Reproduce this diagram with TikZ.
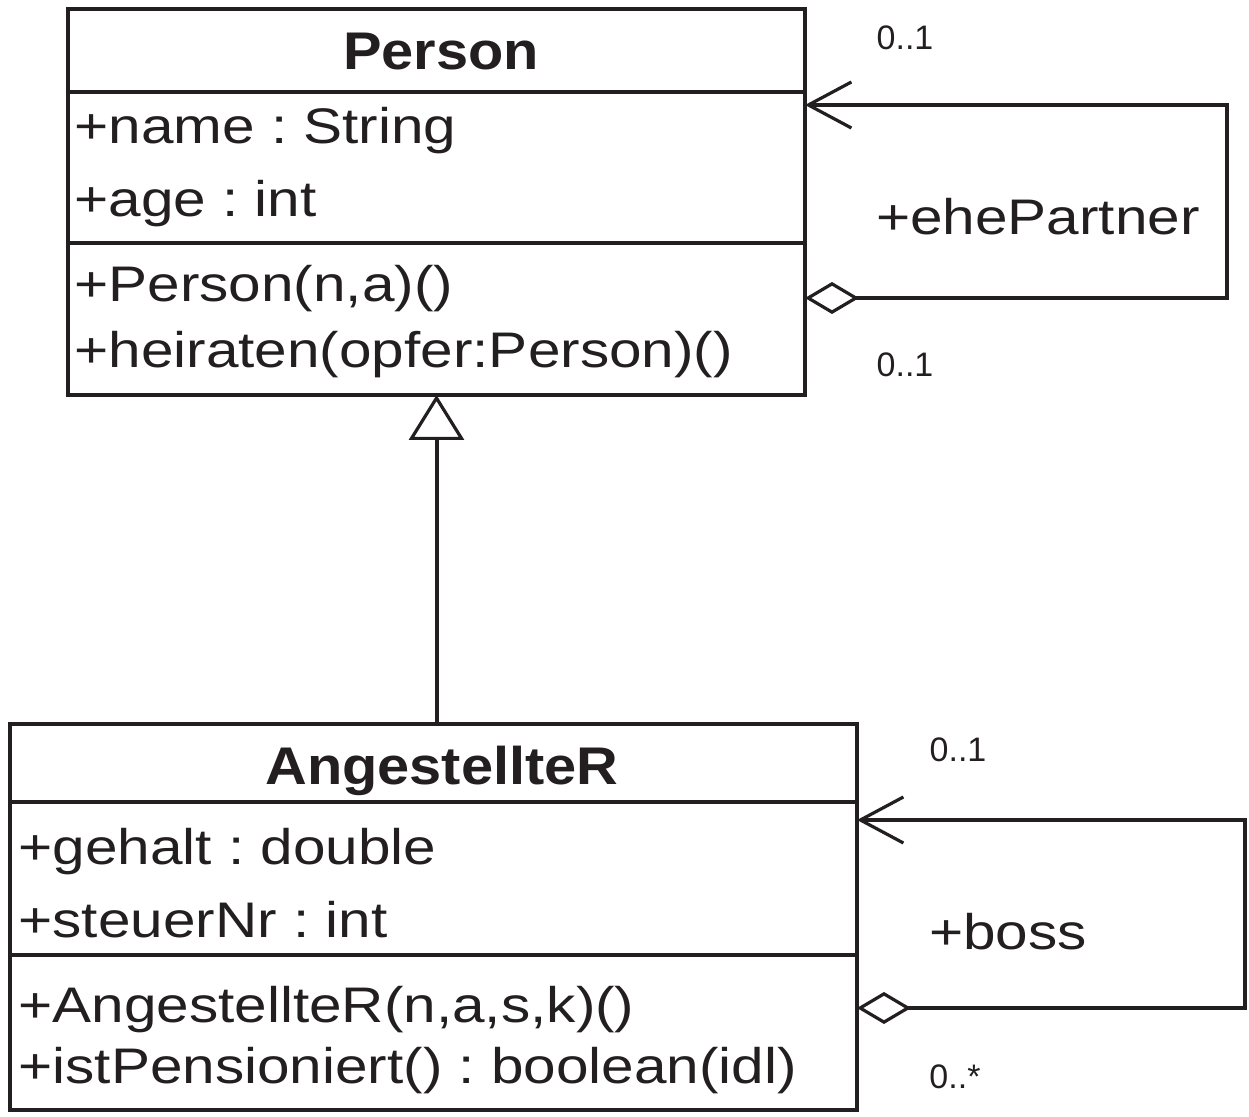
\documentclass[tikz,border=0pt]{standalone}
\usepackage{xcolor}
\usepackage{fontspec}
\setmainfont{Liberation Sans}
\newfontfamily\umlfont[FakeStretch=1.17]{Liberation Sans}
\newfontfamily\umltittel[FakeStretch=1.09]{Liberation Sans}
\usepackage{tikz}
\usetikzlibrary{positioning,arrows.meta}
\definecolor{blekk}{HTML}{231F20}
\frenchspacing

\begin{document}
\begin{tikzpicture}[x=0.5pt,y=-0.5pt]
    \tikzset{
        rom/.style={
            draw=blekk,
            line width=2pt,
            rectangle,
            outer sep=0pt,
            inner sep=0pt
        },
        tittel/.style={
            font=\umltittel\bfseries\fontsize{26.5}{30}\selectfont,
            text=blekk,
            anchor=base
        },
        felt/.style={
            font=\umlfont\fontsize{25}{30}\selectfont,
            text=blekk,
            anchor=base west,
            inner sep=0pt
        },
        mult/.style={
            font=\fontsize{17}{20}\selectfont,
            text=blekk
        },
        rolle/.style={
            font=\umlfont\fontsize{25}{30}\selectfont,
            text=blekk
        },
        assoc/.style={
            {Diamond[open, length=27pt, width=16pt, line width=1.6pt]}-{Straight Barb[length=21.5pt, width=23pt, line width=1.6pt]},
            draw=blekk,
            line width=2pt
        },
        arv/.style={
            -{Triangle[open, length=22.5pt, width=27.5pt, line width=1.6pt]},
            draw=blekk,
            line width=2pt
        }
    }
    \useasboundingbox (0,0) rectangle (1249,1117);

    % Klassen Person
    \node[rom, minimum width=368.5pt, minimum height=41.5pt, anchor=north west] (personnavn) at (68,9) {};
    \node[rom, minimum width=368.5pt, minimum height=75.5pt, below=0pt of personnavn] (personattr) {};
    \node[rom, minimum width=368.5pt, minimum height=76pt, below=0pt of personattr] (personop) {};
    \node[tittel] (tperson) at (441,70) {Person};
    \node[felt] (aname) at (74,144) {+name : String};
    \node[felt] (aage) at (74,217) {+age : int};
    \node[felt] (operson) at (74,302) {+Person(n,a)()};
    \node[felt] (oheiraten) at (74,368) {+heiraten(opfer:Person)()};

    % Klassen AngestellteR
    \node[rom, minimum width=423.5pt, minimum height=39pt, anchor=north west] (angnavn) at (10,724) {};
    \node[rom, minimum width=423.5pt, minimum height=76.5pt, below=0pt of angnavn] (angattr) {};
    \node[rom, minimum width=423.5pt, minimum height=77.5pt, below=0pt of angattr] (angop) {};
    \node[tittel] (tang) at (442,784) {AngestellteR};
    \node[felt] (agehalt) at (18,864) {+gehalt : double};
    \node[felt] (asteuer) at (18,937) {+steuerNr : int};
    \node[felt] (oang) at (18,1022) {+AngestellteR(n,a,s,k)()};
    \node[felt] (opens) at (18,1083) {+istPensioniert() : boolean(idl)};

    % Arv
    \draw[arv] (angnavn.north -| personop.south) -- (personop.south);

    % Selvassosiasjoner
    \coordinate (ehe1) at (1227,298);
    \coordinate (ehe2) at (1227,105);
    \draw[assoc] ([yshift=10.5pt]personop.east) -- (ehe1) -- (ehe2) -- ([yshift=31.25pt]personattr.east);
    \coordinate (boss1) at (1245,1008);
    \coordinate (boss2) at (1245,820);
    \draw[assoc] ([yshift=12.25pt]angop.east) -- (boss1) -- (boss2) -- ([yshift=29.25pt]angattr.east);

    % Roller og multiplisitet
    \node[mult] (m1) at (905,38) {0..1};
    \node[rolle] (r1) at (1038,217) {+ehePartner};
    \node[mult] (m2) at (905,365) {0..1};
    \node[mult] (m3) at (958,750) {0..1};
    \node[rolle] (r2) at (1008,932) {+boss};
    \node[mult] (m4) at (955,1077) {0..*};
\end{tikzpicture}
\end{document}
